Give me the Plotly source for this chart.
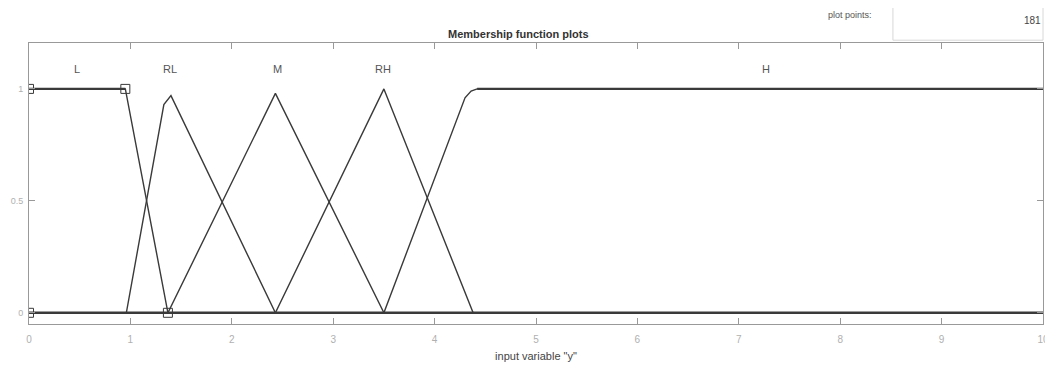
import plotly.graph_objects as go

# Membership functions of input variable "y"
mf_names = ['L', 'RL', 'M', 'RH', 'H']
mf_x = {
    'L':  [0, 0.95, 1.37, 10],
    'RL': [0, 0.96, 1.33, 1.40, 2.43, 10],
    'M':  [0, 1.37, 2.43, 3.50, 10],
    'RH': [0, 2.43, 3.50, 4.38, 10],
    'H':  [0, 3.50, 4.30, 4.36, 4.42, 10],
}
mf_y = {
    'L':  [1, 1, 0, 0],
    'RL': [0, 0, 0.93, 0.97, 0, 0],
    'M':  [0, 0, 0.98, 0, 0],
    'RH': [0, 0, 1.0, 0, 0],
    'H':  [0, 0, 0.96, 0.99, 1.0, 1.0],
}
label_x = [0.47, 1.39, 2.45, 3.49, 7.27]
label_y = 1.09
marker_x = [0, 0.95, 0, 1.37]
marker_y = [1, 1, 0, 0]
x_ticks = list(range(0, 11))
y_ticks = [0, 0.5, 1]
plot_points = 181

ink = '#3a3a3a'
grey = '#b0b0b0'

fig = go.Figure()

# thick baseline and plateau like the MATLAB editor draws
fig.add_trace(go.Scatter(x=[0, 10], y=[0, 0], mode='lines',
                         line=dict(color=ink, width=2.6), hoverinfo='skip'))
for name in mf_names:
    fig.add_trace(go.Scatter(x=mf_x[name], y=mf_y[name], mode='lines', name=name,
                             line=dict(color=ink, width=1.4)))
fig.add_trace(go.Scatter(x=[0, 0.95], y=[1, 1], mode='lines',
                         line=dict(color=ink, width=2.4), hoverinfo='skip'))
fig.add_trace(go.Scatter(x=[4.42, 10], y=[1, 1], mode='lines',
                         line=dict(color=ink, width=2.2), hoverinfo='skip'))
# selected-MF handles; the ones on the axis get clipped to half squares
fig.add_trace(go.Scatter(x=marker_x, y=marker_y, mode='markers', cliponaxis=True,
                         marker=dict(symbol='square-open', size=9, color=ink, line=dict(width=1))))

for name, lx in zip(mf_names, label_x):
    fig.add_annotation(x=lx, y=label_y, text=name, showarrow=False,
                       font=dict(family='Liberation Sans, Arial', size=11, color='#555'))

font = dict(family='Liberation Sans, Arial', size=10, color=grey)
yfont = dict(family='Liberation Sans, Arial', size=9, color=grey)
# the page puts the figure 8px in from the window corner
fig.update_layout(
    width=1045, height=358,
    margin=dict(l=21, r=10, t=35, b=42),
    paper_bgcolor='white', plot_bgcolor='white',
    showlegend=False,
    font=font,
    xaxis=dict(range=[0, 10], tickvals=x_ticks, ticks='inside', ticklen=6, tickcolor='#999',
               showline=True, linecolor='#999', linewidth=1, mirror='ticks',
               showgrid=False, zeroline=False, tickfont=font, automargin=False,
               ticklabelstandoff=6,
               title=dict(text='input variable "y"', standoff=8,
                          font=dict(family='Liberation Sans, Arial', size=11, color='#444'))),
    yaxis=dict(range=[-0.05, 1.205], tickvals=y_ticks, ticktext=['0', '0.5', '1'],
               ticks='inside', ticklen=6, tickcolor='#999',
               showline=True, linecolor='#999', linewidth=1, mirror='ticks',
               showgrid=False, zeroline=False, tickfont=yfont, automargin=False,
               ticklabelstandoff=3),
)

fig.add_annotation(xref='paper', yref='paper', x=0.483, y=1.0, yanchor='bottom', yshift=1,
                   text='<b>Membership function plots</b>', showarrow=False,
                   font=dict(family='Liberation Sans, Arial', size=11, color='#333'))
fig.add_annotation(xref='paper', yref='paper', x=0.81, y=1.10, xanchor='center', yanchor='middle',
                   text='plot points:', showarrow=False,
                   font=dict(family='Liberation Sans, Arial', size=9, color='#555'))
fig.add_shape(type='rect', xref='paper', yref='paper', x0=0.852, x1=1.0, y0=1.01, y1=1.17,
              line=dict(color='#d8d8d8', width=1), fillcolor='white')
fig.add_annotation(xref='paper', yref='paper', x=1.0, y=1.08, xanchor='right', yanchor='middle',
                   text=str(plot_points), showarrow=False,
                   font=dict(family='Liberation Sans, Arial', size=10, color='#444'))

fig.write_html("out.html")
